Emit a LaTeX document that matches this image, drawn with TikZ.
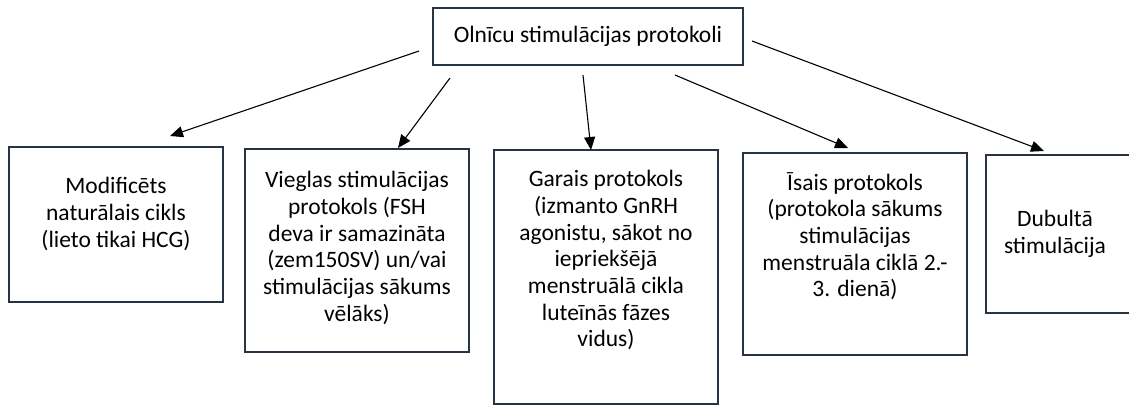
\documentclass[tikz,border=0pt]{standalone}
\usepackage{fontspec}
\setmainfont{Carlito}
\usepackage{tikz}
\usetikzlibrary{arrows.meta,calc,positioning}
\definecolor{boxline}{RGB}{40,52,68}

\begin{document}
\begin{tikzpicture}[x=1pt,y=-1pt,
    every node/.style={font=\fontsize{23.5}{26.7}\selectfont},
    frame/.style={draw=boxline,line width=1.8pt,inner sep=0pt},
    txt/.style={align=center,inner sep=0pt,anchor=north},
    arr/.style={-{Triangle[length=13pt,width=11pt]},line width=1.1pt}]
%
  \useasboundingbox[fill=white] (0,0) rectangle (1129,408) ;
%
  \node [frame,minimum width=310pt,minimum height=57pt] (top) at (588,36.5)
        {Olnīcu stimulācijas protokoli} ;
%
  \node [frame,minimum width=214pt,minimum height=155pt] (modif)  at (116,224.5) {} ;
  \node [frame,minimum width=224pt,minimum height=203pt] (viegl)  at (357,250.5) {} ;
  \node [frame,minimum width=224pt,minimum height=254pt] (garais) at (606,277)   {} ;
  \node [frame,minimum width=224pt,minimum height=202pt] (isais)  at (855,254)   {} ;
  \node [frame,minimum width=146pt,minimum height=158pt] (dubult) at (1059,234)  {} ;
%
  \node [txt,below=31pt of modif.north] (modiftxt)
        {Modificēts\\ naturālais cikls\\ (lieto tikai HCG)} ;
  \node [txt,below=23pt of viegl.north] (viegltxt)
        {Vieglas stimulācijas\\ protokols (FSH\\ deva ir samazināta\\ (zem150SV) un/vai\\
         stimulācijas sākums\\ vēlāks)} ;
  \node [txt,below=21pt of garais.north] (garaistxt)
        {Garais protokols\\ (izmanto GnRH\\ agonistu, sākot no\\ iepriekšējā\\
         menstruālā cikla\\ luteīnās fāzes\\ vidus)} ;
  \node [txt,below=20pt of isais.north] (isaistxt)
        {Īsais protokols\\ (protokola sākums\\ stimulācijas\\ menstruāla ciklā 2.-\\ 3. dienā)} ;
  \node [txt,below=56pt of dubult.north,xshift=-4pt] (dubulttxt)
        {Dubultā\\ stimulācija} ;
%
  \coordinate (s1) at (419,51) ;   \coordinate (e1) at (170,136) ;
  \coordinate (s2) at (450,78) ;   \coordinate (e2) at (398,148) ;
  \coordinate (s3) at (583,75) ;   \coordinate (e3) at (591,150) ;
  \coordinate (s4) at (675,75) ;   \coordinate (e4) at (848,148) ;
  \coordinate (s5) at (752,41) ;   \coordinate (e5) at (1044,151) ;
%
  \draw [arr] (s1) -- (e1) ;
  \draw [arr] (s2) -- (e2) ;
  \draw [arr] (s3) -- (e3) ;
  \draw [arr] (s4) -- (e4) ;
  \draw [arr] (s5) -- (e5) ;
\end{tikzpicture}
\end{document}
